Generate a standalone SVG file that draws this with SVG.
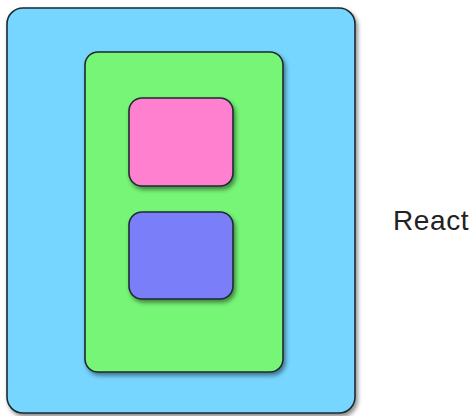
<svg xmlns="http://www.w3.org/2000/svg" width="476" height="416" viewBox="0 0 476 416">
<defs>
<filter id="sh" x="-10%" y="-10%" width="130%" height="130%">
<feDropShadow dx="2" dy="3" stdDeviation="2" flood-color="#000" flood-opacity="0.45"/>
</filter>
<style>
.box{stroke:#1e2a30;stroke-width:1.6;filter:url(#sh)}
.lbl{font-family:"Liberation Sans",Arial,sans-serif;font-size:28px;letter-spacing:0.6px;fill:#222}
</style>
</defs>
<rect width="476" height="416" fill="#fff"/>
<g id="outer"><rect class="box" x="7" y="8" width="348" height="405" rx="16" fill="#76d6ff"/></g>
<g id="middle"><rect class="box" x="85" y="52" width="198" height="320" rx="13" fill="#76f576"/></g>
<g id="pink"><rect class="box" x="129" y="98" width="104" height="88" rx="13" fill="#ff80ce"/></g>
<g id="blue"><rect class="box" x="129" y="212" width="104" height="87" rx="13" fill="#7a7ef9"/></g>
<g id="label"><text class="lbl" x="393" y="230">React</text></g>
<g id="connectors"></g>
</svg>
